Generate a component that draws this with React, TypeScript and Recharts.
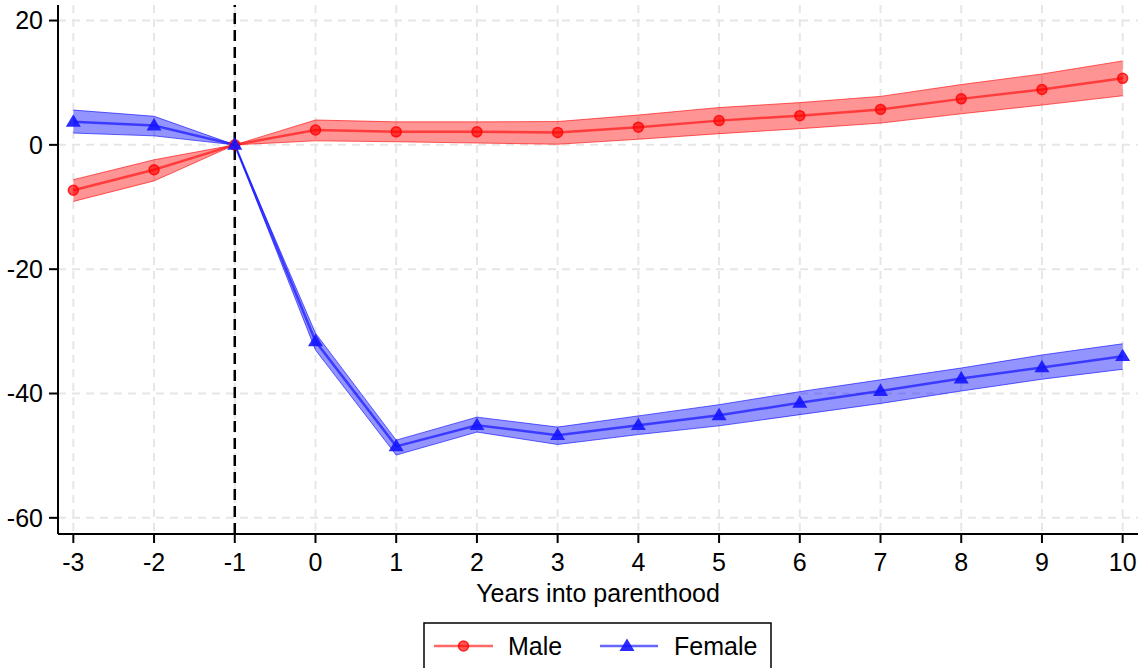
import React from 'react';
import { ComposedChart, Line, Area, XAxis, YAxis, CartesianGrid, ReferenceLine, Label } from 'recharts';

const years = [-3, -2, -1, 0, 1, 2, 3, 4, 5, 6, 7, 8, 9, 10];
const maleEst = [-7.3, -4.0, 0, 2.4, 2.1, 2.1, 2.0, 2.85, 3.9, 4.7, 5.7, 7.4, 8.9, 10.7];
const maleLow = [-9.1, -5.8, 0, 0.65, 0.5, 0.3, 0.1, 0.9, 1.8, 2.6, 3.5, 5.0, 6.4, 7.9];
const maleHigh = [-5.6, -2.4, 0, 4.0, 3.7, 3.7, 3.75, 4.8, 6.0, 6.8, 7.8, 9.7, 11.4, 13.5];
const femaleEst = [3.7, 3.1, 0, -31.6, -48.5, -45.1, -46.7, -45.1, -43.5, -41.5, -39.6, -37.6, -35.8, -34.0];
const femaleLow = [1.9, 1.45, 0, -33.0, -49.9, -46.2, -48.2, -46.6, -45.2, -43.4, -41.6, -39.6, -37.7, -36.1];
const femaleHigh = [5.6, 4.6, 0, -30.3, -47.5, -43.8, -45.4, -43.6, -41.8, -39.7, -37.8, -35.9, -33.8, -32.0];
const xTicks = [-3, -2, -1, 0, 1, 2, 3, 4, 5, 6, 7, 8, 9, 10];
const yTicks = [-60, -40, -20, 0, 20];

const data = years.map((y, i) => ({
  year: y,
  male: maleEst[i],
  maleBand: [maleLow[i], maleHigh[i]],
  female: femaleEst[i],
  femaleBand: [femaleLow[i], femaleHigh[i]],
}));

const FONT = '"Liberation Sans", Arial, Helvetica, sans-serif';
const RED_LINE = 'rgba(255,0,0,0.6)';
const BLUE_LINE = 'rgba(0,0,255,0.6)';

const Circle = (props: any) => {
  const { cx, cy, index } = props;
  if (cx == null || cy == null) return <g key={'c' + index} />;
  return <circle key={'c' + index} cx={cx} cy={cy} r={5} fill="rgba(255,0,0,0.65)" stroke="rgba(255,0,0,0.8)" strokeWidth={1.5} />;
};

const Tri = (props: any) => {
  const { cx, cy, index } = props;
  if (cx == null || cy == null) return <g key={'t' + index} />;
  const s = 7.5;
  const pts = `${cx},${cy - s} ${cx - s},${cy + s * 0.65} ${cx + s},${cy + s * 0.65}`;
  return <polygon key={'t' + index} points={pts} fill="rgba(20,20,255,0.9)" stroke="none" />;
};

export default function App() {
  return (
    <div style={{ position: 'absolute', left: 0, top: 0, width: 1140, height: 668, overflow: 'hidden', background: '#fff' }}>
      <ComposedChart
        width={1140}
        height={668}
        data={data}
        margin={{ top: 5, right: 2, bottom: 60, left: 0 }}
      >
        <CartesianGrid stroke="#e6e6e6" strokeWidth={2} strokeDasharray="8 6" verticalValues={xTicks} horizontalValues={yTicks} />
        <XAxis
          dataKey="year"
          type="number"
          domain={[-3.19, 10.19]}
          ticks={xTicks}
          interval={0}
          height={74}
          tickSize={9}
          tickMargin={10}
          axisLine={{ stroke: '#000', strokeWidth: 2 }}
          tickLine={{ stroke: '#000', strokeWidth: 2 }}
          tick={{ fill: '#000', fontSize: 25, fontFamily: FONT }}
        >
          <Label value="Years into parenthood" position="insideBottom" offset={6} style={{ fill: '#000', fontSize: 25, fontFamily: FONT }} />
        </XAxis>
        <YAxis
          type="number"
          domain={[-62.6, 22.5]}
          ticks={yTicks}
          interval={0}
          width={58}
          tickSize={9}
          tickMargin={6}
          axisLine={{ stroke: '#000', strokeWidth: 2 }}
          tickLine={{ stroke: '#000', strokeWidth: 2 }}
          tick={{ fill: '#000', fontSize: 25, fontFamily: FONT }}
        />
        <Area dataKey="maleBand" type="linear" fill="rgba(255,0,0,0.42)" fillOpacity={1} stroke="rgba(255,0,0,0.6)" strokeWidth={1} isAnimationActive={false} dot={false} activeDot={false} />
        <Area dataKey="femaleBand" type="linear" fill="rgba(0,0,255,0.42)" fillOpacity={1} stroke="rgba(0,0,255,0.6)" strokeWidth={1} isAnimationActive={false} dot={false} activeDot={false} />
        <ReferenceLine x={-1} stroke="#000" strokeWidth={2.5} strokeDasharray="11 6" />
        <Line dataKey="male" type="linear" stroke={RED_LINE} strokeWidth={2.5} dot={Circle} activeDot={false} isAnimationActive={false} />
        <Line dataKey="female" type="linear" stroke={BLUE_LINE} strokeWidth={2.5} dot={Tri} activeDot={false} isAnimationActive={false} />
      </ComposedChart>
      <svg style={{ position: 'absolute', left: 423, top: 622 }} width={350} height={46}>
        <rect x={1} y={1} width={347} height={60} fill="#fff" stroke="#000" strokeWidth={1.5} />
        <line x1={11} y1={24} x2={70} y2={24} stroke={RED_LINE} strokeWidth={2.5} />
        <circle cx={40.5} cy={24} r={5} fill="rgba(255,0,0,0.65)" stroke="rgba(255,0,0,0.8)" strokeWidth={1.5} />
        <text x={85} y={33} fontSize={25} fontFamily={FONT} fill="#000">Male</text>
        <line x1={177} y1={24} x2={235} y2={24} stroke={BLUE_LINE} strokeWidth={2.5} />
        <polygon points="204,16.5 196.5,28.9 211.5,28.9" fill="rgba(20,20,255,0.9)" />
        <text x={251} y={33} fontSize={25} fontFamily={FONT} fill="#000">Female</text>
      </svg>
    </div>
  );
}
